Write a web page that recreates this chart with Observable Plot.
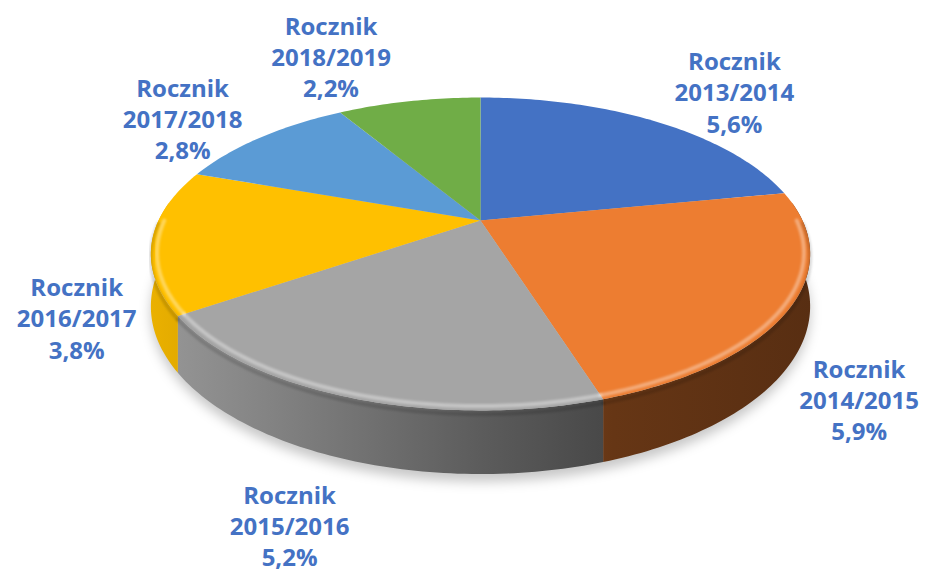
<!DOCTYPE html>
<html><head><meta charset="utf-8">
<script src="https://cdn.jsdelivr.net/npm/d3@7"></script>
<script src="https://cdn.jsdelivr.net/npm/@observablehq/plot@0.6"></script>
<style>body{margin:0;background:#fff}</style>
</head><body><div id="chart"></div>
<script>
// ---- data ----
const seasons = ["2013/2014", "2014/2015", "2015/2016", "2016/2017", "2017/2018", "2018/2019"];
const values = [5.6, 5.9, 5.2, 3.8, 2.8, 2.2];
const labelPrefix = "Rocznik";
const palette = ["#4472C4", "#ED7D31", "#A5A5A5", "#FFC000", "#5B9BD5", "#70AD47"];

// ---- layout (perspective 3D pie) ----
const W = 927, H = 572;
const CX = 480, CY = 220, R = 322, C = 0.214, B = -102.2, DEPTH = 50;
function proj(a, k = 1, drop = 0) {
  const u = k * Math.sin(a), v = k * Math.cos(a), w = 1 + C * v;
  return {x: CX + R * u / w, y: (CY + B * v) / w + drop / w};
}
function arcPts(a0, a1, k, drop) {
  const n = Math.max(2, Math.ceil((a1 - a0) / (Math.PI / 180)));
  return d3.range(n + 1).map(i => proj(a0 + (a1 - a0) * i / n, k, drop));
}
const arcs = d3.pie().sort(null).value(d => d)(values);
const FRONT0 = Math.PI / 2 - 0.12, FRONT1 = 3 * Math.PI / 2 + 0.12;

const marks = [];
// shadow
const shadowPts = arcPts(0, 2 * Math.PI, 1.0, DEPTH + 6);
marks.push(Plot.line(shadowPts, {x: "x", y: "y", fill: "#000", fillOpacity: 0.22, stroke: "none", className: "shadow"}));
// side walls
arcs.forEach((s, i) => {
  const a0 = Math.max(s.startAngle, FRONT0), a1 = Math.min(s.endAngle, FRONT1);
  if (a1 <= a0) return;
  const pts = arcPts(a0, a1, 1, 0).concat(arcPts(a0, a1, 1, DEPTH).reverse());
  marks.push(Plot.line(pts, {x: "x", y: "y", fill: `url(#side${i})`, stroke: "none"}));
});
// top surfaces
arcs.forEach((s, i) => {
  const pts = [proj(0, 0, 0), ...arcPts(s.startAngle, s.endAngle, 1, 0)];
  marks.push(Plot.line(pts, {x: "x", y: "y", fill: palette[i], stroke: "none"}));
});
// bevel: dark seam and soft highlight along front edge
arcs.forEach((s, i) => {
  const a0 = Math.max(s.startAngle, Math.PI / 2), a1 = Math.min(s.endAngle, 3 * Math.PI / 2);
  if (a1 <= a0) return;
  marks.push(Plot.line(arcPts(a0, a1, 1, 3), {x: "x", y: "y", stroke: "#000", strokeOpacity: 0.14, strokeWidth: 4, className: "bevel"}));
  marks.push(Plot.line(arcPts(a0, a1, 0.982, 0), {x: "x", y: "y", stroke: "#fff", strokeOpacity: 0.35, strokeWidth: 4, className: "bevel"}));
});
// labels (placed just outside each slice, from its mid-angle)
const labels = arcs.map((s, i) => {
  const mid = (s.startAngle + s.endAngle) / 2;
  const sn = Math.sin(mid), cs = Math.cos(mid);
  const front = cs < 0;
  const e = proj(mid, 1, front ? DEPTH : 0);
  const dx = Math.sign(sn) * (78 - 20 * Math.max(0, -cs));
  const dy = front ? 25 + 45 * cs * cs : 30 - 78 * cs;
  return {
    x: e.x + dx,
    y: e.y + dy,
    text: `${labelPrefix}\n${seasons[i]}\n${values[i].toFixed(1).replace(".", ",")}%`
  };
});
marks.push(Plot.text(labels, {x: "x", y: "y", text: "text", fill: "#4472C4", fontSize: 24, fontWeight: "bold",
  fontFamily: "Open Sans", lineHeight: 1.3, textAnchor: "middle"}));

const svg = Plot.plot({
  width: W, height: H, margin: 0,
  x: {domain: [0, W], range: [0, W], axis: null},
  y: {domain: [0, H], range: [0, H], axis: null},
  marks
});
const defs = d3.select(svg).insert("defs", ":first-child");
const stops = [[0, 0.92], [0.15, 0.82], [0.5, 0.56], [0.7, 0.43], [1, 0.37]];
palette.forEach((c, i) => {
  const g = defs.append("linearGradient").attr("id", "side" + i).attr("gradientUnits", "userSpaceOnUse")
    .attr("x1", CX - R - 10).attr("x2", CX + R + 10).attr("y1", 0).attr("y2", 0);
  const col = d3.rgb(c);
  stops.forEach(([t, f]) => g.append("stop").attr("offset", t)
    .attr("stop-color", d3.rgb(col.r * f, col.g * f, col.b * f).formatHex()));
});
defs.append("filter").attr("id", "blur").attr("x", "-10%").attr("y", "-10%").attr("width", "120%").attr("height", "120%")
  .append("feGaussianBlur").attr("stdDeviation", 6);
defs.append("filter").attr("id", "soft").attr("x", "-5%").attr("y", "-5%").attr("width", "110%").attr("height", "110%")
  .append("feGaussianBlur").attr("stdDeviation", 1.2);
d3.select(svg).selectAll("g.shadow").attr("filter", "url(#blur)");
d3.select(svg).selectAll("g.bevel").attr("filter", "url(#soft)");
document.getElementById("chart").appendChild(svg);
</script>
</body></html>
